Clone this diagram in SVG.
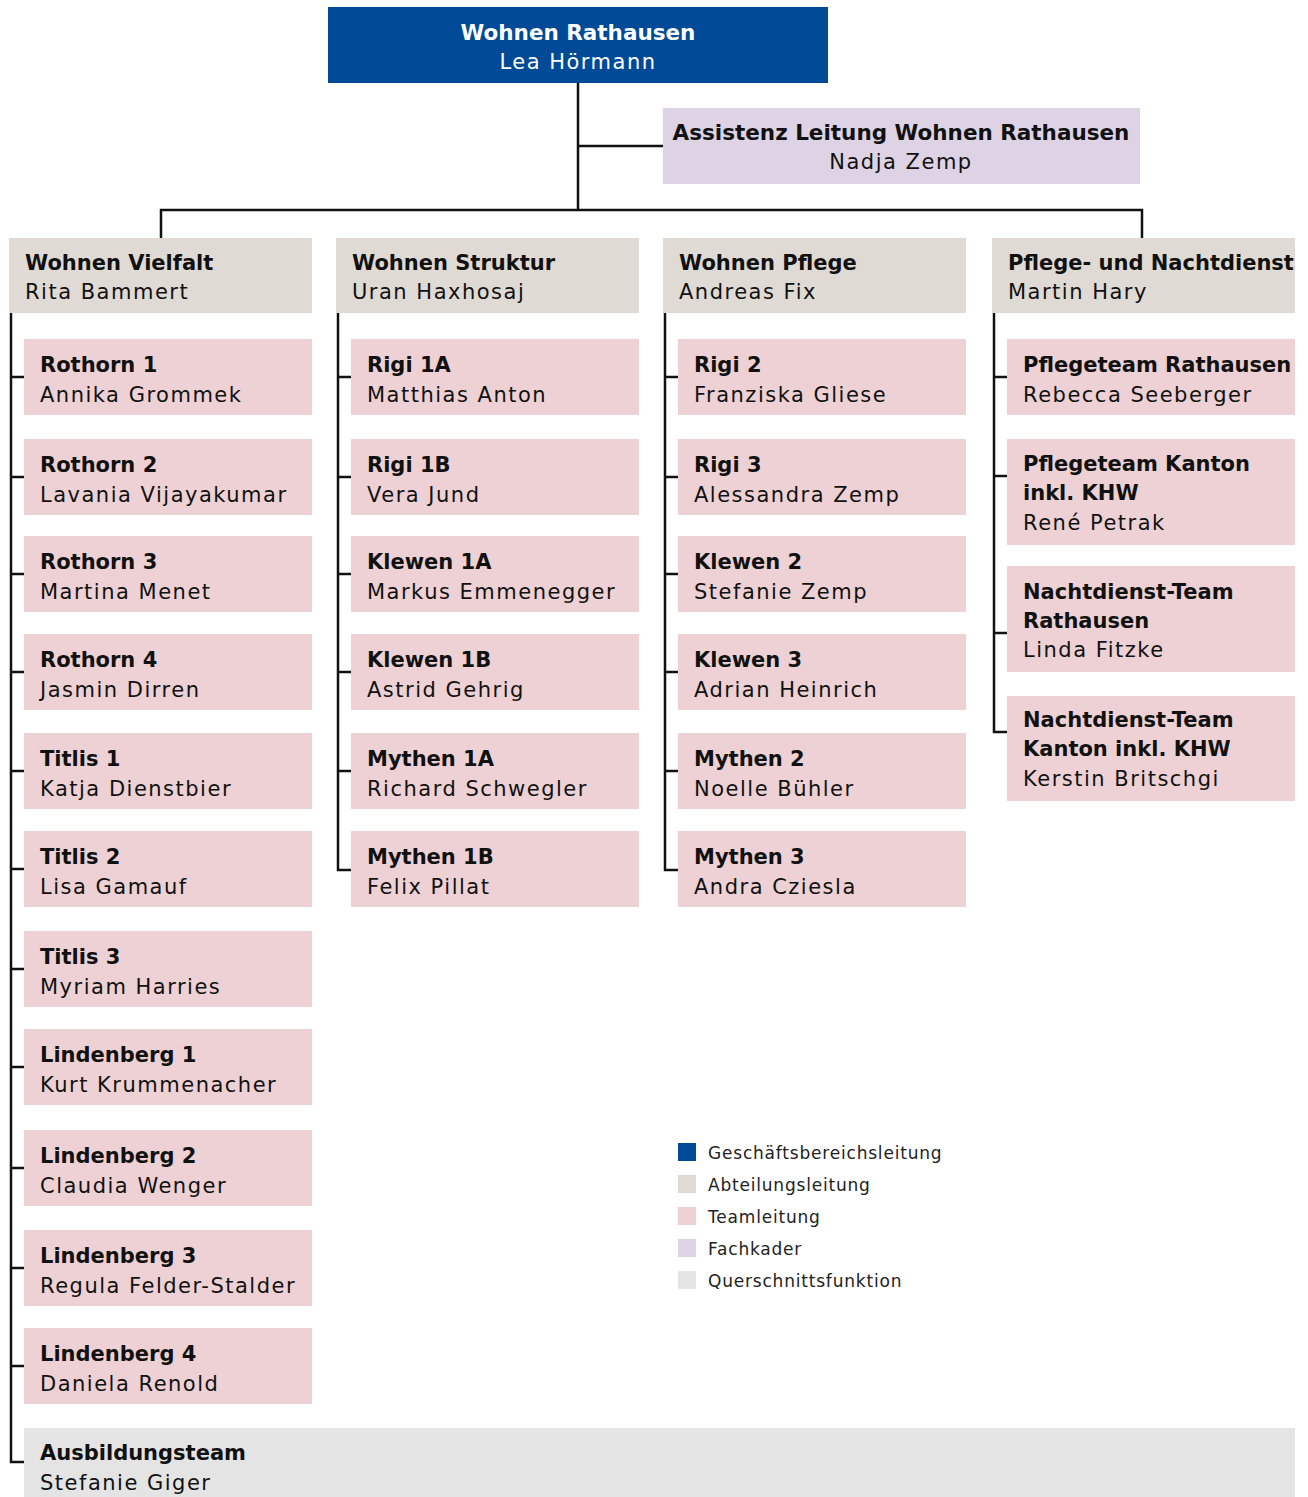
<svg xmlns="http://www.w3.org/2000/svg" width="1308" height="1497" viewBox="0 0 1308 1497">
<style>
text{font-family:"DejaVu Sans","Liberation Sans",sans-serif;font-size:21px;fill:#111}
.b{font-weight:bold;letter-spacing:0}
.r{letter-spacing:1.5px}
.w{fill:#fff}
.c{text-anchor:middle}
.top{fill:#004A98}
.ass{fill:#DDD3E5}
.hd{fill:#E0DAD4}
.tm{fill:#EDD1D4}
.qs{fill:#E4E4E4}
.lg{font-size:17px;letter-spacing:0.8px;fill:#222}
#connectors path{fill:none;stroke:#111;stroke-width:2.5;stroke-linejoin:miter}
</style>
<rect width="1308" height="1497" fill="#fff"/>
<g id="connectors">
<path d="M578 83V210M578 146H663M161 238V210H1142V238"/>
<path d="M11 313V1462H24M11 377H24M11 477H24M11 574H24M11 672H24M11 771H24M11 869H24M11 969H24M11 1067H24M11 1168H24M11 1268H24M11 1366H24"/>
<path d="M338 313V870H351M338 377H351M338 477H351M338 574H351M338 672H351M338 771H351"/>
<path d="M665 313V870H678M665 377H678M665 477H678M665 574H678M665 672H678M665 771H678"/>
<path d="M994 313V732H1007M994 377H1007M994 476H1007M994 633H1007"/>
</g>
<g id="n-top"><rect class="top" x="328" y="7" width="500" height="76"/><text class="b w c" x="578" y="40" style="font-size:21.5px">Wohnen Rathausen</text><text class="r w c" x="578" y="69">Lea Hörmann</text></g>
<g id="n-assistenz"><rect class="ass" x="663" y="108" width="477" height="76"/><text class="b c" x="901" y="140" style="font-size:21.5px">Assistenz Leitung Wohnen Rathausen</text><text class="r c" x="901" y="169">Nadja Zemp</text></g>
<g id="h-vielfalt"><rect class="hd" x="9" y="238" width="303" height="75"/><text class="b" x="25" y="270">Wohnen Vielfalt</text><text class="r" x="25" y="299">Rita Bammert</text></g>
<g id="h-struktur"><rect class="hd" x="336" y="238" width="303" height="75"/><text class="b" x="352" y="270">Wohnen Struktur</text><text class="r" x="352" y="299">Uran Haxhosaj</text></g>
<g id="h-pflege"><rect class="hd" x="663" y="238" width="303" height="75"/><text class="b" x="679" y="270">Wohnen Pflege</text><text class="r" x="679" y="299">Andreas Fix</text></g>
<g id="h-nacht"><rect class="hd" x="992" y="238" width="303" height="75"/><text class="b" x="1008" y="270">Pflege- und Nachtdienst</text><text class="r" x="1008" y="299">Martin Hary</text></g>

<g id="t-rothorn1"><rect class="tm" x="24" y="339" width="288" height="76"/><text class="b" x="40" y="372">Rothorn 1</text><text class="r" x="40" y="402">Annika Grommek</text></g>
<g id="t-rothorn2"><rect class="tm" x="24" y="439" width="288" height="76"/><text class="b" x="40" y="472">Rothorn 2</text><text class="r" x="40" y="502">Lavania Vijayakumar</text></g>
<g id="t-rothorn3"><rect class="tm" x="24" y="536" width="288" height="76"/><text class="b" x="40" y="569">Rothorn 3</text><text class="r" x="40" y="599">Martina Menet</text></g>
<g id="t-rothorn4"><rect class="tm" x="24" y="634" width="288" height="76"/><text class="b" x="40" y="667">Rothorn 4</text><text class="r" x="40" y="697">Jasmin Dirren</text></g>
<g id="t-titlis1"><rect class="tm" x="24" y="733" width="288" height="76"/><text class="b" x="40" y="766">Titlis 1</text><text class="r" x="40" y="796">Katja Dienstbier</text></g>
<g id="t-titlis2"><rect class="tm" x="24" y="831" width="288" height="76"/><text class="b" x="40" y="864">Titlis 2</text><text class="r" x="40" y="894">Lisa Gamauf</text></g>
<g id="t-titlis3"><rect class="tm" x="24" y="931" width="288" height="76"/><text class="b" x="40" y="964">Titlis 3</text><text class="r" x="40" y="994">Myriam Harries</text></g>
<g id="t-lindenberg1"><rect class="tm" x="24" y="1029" width="288" height="76"/><text class="b" x="40" y="1062">Lindenberg 1</text><text class="r" x="40" y="1092">Kurt Krummenacher</text></g>
<g id="t-lindenberg2"><rect class="tm" x="24" y="1130" width="288" height="76"/><text class="b" x="40" y="1163">Lindenberg 2</text><text class="r" x="40" y="1193">Claudia Wenger</text></g>
<g id="t-lindenberg3"><rect class="tm" x="24" y="1230" width="288" height="76"/><text class="b" x="40" y="1263">Lindenberg 3</text><text class="r" x="40" y="1293">Regula Felder-Stalder</text></g>
<g id="t-lindenberg4"><rect class="tm" x="24" y="1328" width="288" height="76"/><text class="b" x="40" y="1361">Lindenberg 4</text><text class="r" x="40" y="1391">Daniela Renold</text></g>

<g id="t-rigi1a"><rect class="tm" x="351" y="339" width="288" height="76"/><text class="b" x="367" y="372">Rigi 1A</text><text class="r" x="367" y="402">Matthias Anton</text></g>
<g id="t-rigi1b"><rect class="tm" x="351" y="439" width="288" height="76"/><text class="b" x="367" y="472">Rigi 1B</text><text class="r" x="367" y="502">Vera Jund</text></g>
<g id="t-klewen1a"><rect class="tm" x="351" y="536" width="288" height="76"/><text class="b" x="367" y="569">Klewen 1A</text><text class="r" x="367" y="599">Markus Emmenegger</text></g>
<g id="t-klewen1b"><rect class="tm" x="351" y="634" width="288" height="76"/><text class="b" x="367" y="667">Klewen 1B</text><text class="r" x="367" y="697">Astrid Gehrig</text></g>
<g id="t-mythen1a"><rect class="tm" x="351" y="733" width="288" height="76"/><text class="b" x="367" y="766">Mythen 1A</text><text class="r" x="367" y="796">Richard Schwegler</text></g>
<g id="t-mythen1b"><rect class="tm" x="351" y="831" width="288" height="76"/><text class="b" x="367" y="864">Mythen 1B</text><text class="r" x="367" y="894">Felix Pillat</text></g>

<g id="t-rigi2"><rect class="tm" x="678" y="339" width="288" height="76"/><text class="b" x="694" y="372">Rigi 2</text><text class="r" x="694" y="402">Franziska Gliese</text></g>
<g id="t-rigi3"><rect class="tm" x="678" y="439" width="288" height="76"/><text class="b" x="694" y="472">Rigi 3</text><text class="r" x="694" y="502">Alessandra Zemp</text></g>
<g id="t-klewen2"><rect class="tm" x="678" y="536" width="288" height="76"/><text class="b" x="694" y="569">Klewen 2</text><text class="r" x="694" y="599">Stefanie Zemp</text></g>
<g id="t-klewen3"><rect class="tm" x="678" y="634" width="288" height="76"/><text class="b" x="694" y="667">Klewen 3</text><text class="r" x="694" y="697">Adrian Heinrich</text></g>
<g id="t-mythen2"><rect class="tm" x="678" y="733" width="288" height="76"/><text class="b" x="694" y="766">Mythen 2</text><text class="r" x="694" y="796">Noelle Bühler</text></g>
<g id="t-mythen3"><rect class="tm" x="678" y="831" width="288" height="76"/><text class="b" x="694" y="864">Mythen 3</text><text class="r" x="694" y="894">Andra Cziesla</text></g>

<g id="t-pflegeteam-rathausen"><rect class="tm" x="1007" y="339" width="288" height="76"/><text class="b" x="1023" y="372">Pflegeteam Rathausen</text><text class="r" x="1023" y="402">Rebecca Seeberger</text></g>
<g id="t-pflegeteam-kanton"><rect class="tm" x="1007" y="439" width="288" height="106"/><text class="b" x="1023" y="471">Pflegeteam Kanton</text><text class="b" x="1023" y="500">inkl. KHW</text><text class="r" x="1023" y="530">René Petrak</text></g>
<g id="t-nacht-rathausen"><rect class="tm" x="1007" y="566" width="288" height="106"/><text class="b" x="1023" y="599">Nachtdienst-Team</text><text class="b" x="1023" y="628">Rathausen</text><text class="r" x="1023" y="657">Linda Fitzke</text></g>
<g id="t-nacht-kanton"><rect class="tm" x="1007" y="696" width="288" height="105"/><text class="b" x="1023" y="727">Nachtdienst-Team</text><text class="b" x="1023" y="756">Kanton inkl. KHW</text><text class="r" x="1023" y="786">Kerstin Britschgi</text></g>

<g id="q-ausbildung"><rect class="qs" x="24" y="1428" width="1271" height="69"/><text class="b" x="40" y="1460">Ausbildungsteam</text><text class="r" x="40" y="1490">Stefanie Giger</text></g>

<g id="legend">
<rect class="top" x="678" y="1143" width="18" height="18"/><text class="lg" x="708" y="1159">Geschäftsbereichsleitung</text>
<rect class="hd" x="678" y="1175" width="18" height="18"/><text class="lg" x="708" y="1191">Abteilungsleitung</text>
<rect class="tm" x="678" y="1207" width="18" height="18"/><text class="lg" x="708" y="1223">Teamleitung</text>
<rect class="ass" x="678" y="1239" width="18" height="18"/><text class="lg" x="708" y="1255">Fachkader</text>
<rect class="qs" x="678" y="1271" width="18" height="18"/><text class="lg" x="708" y="1287">Querschnittsfunktion</text>
</g>
</svg>
